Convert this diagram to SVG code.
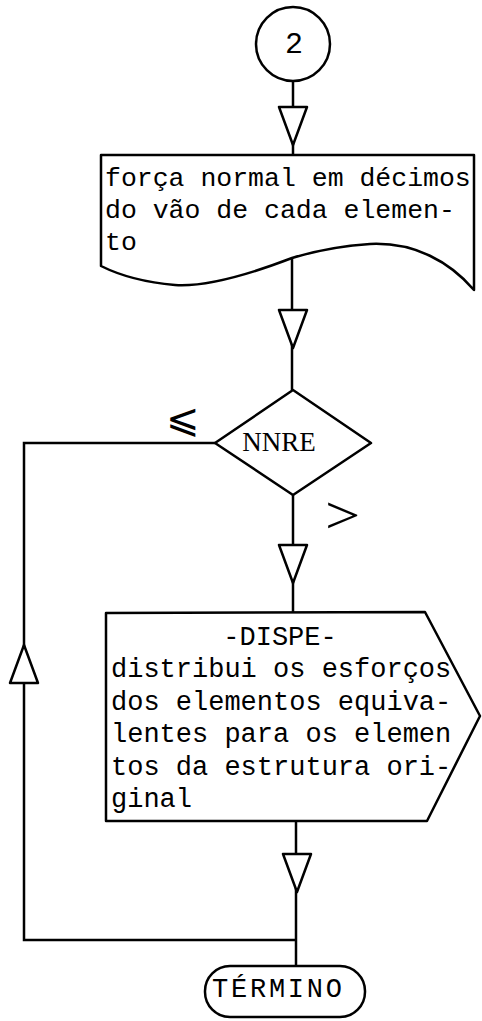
<svg xmlns="http://www.w3.org/2000/svg" width="482" height="1021" viewBox="0 0 482 1021">
<style>
.s{fill:#fff;stroke:#000;stroke-width:2.5;stroke-linejoin:round}
.ln{fill:none;stroke:#000;stroke-width:2.5}
.tw{font-family:"Liberation Mono","DejaVu Sans Mono",monospace;fill:#000}
.sf{font-family:"Liberation Serif","DejaVu Serif",serif;fill:#000}
</style>
<defs>
<path id="tri" d="M-14,-38 L14,-38 L0,0 Z" class="s"/>
</defs>
<g id="connectors">
<path class="ln" d="M293,81 V155"/>
<path class="ln" d="M292,258 V390"/>
<path class="ln" d="M293,495 V613"/>
<path class="ln" d="M215,443 H24 V940 H296"/>
<path class="ln" d="M296,821 V966"/>
<use href="#tri" x="293" y="145"/>
<use href="#tri" x="293" y="348"/>
<use href="#tri" x="293" y="583"/>
<use href="#tri" x="297" y="892"/>
<use href="#tri" transform="translate(24,645) rotate(180)"/>
<text class="sf" x="166" y="432" font-size="40" font-family="DejaVu Sans">⩽</text>
<text class="sf" x="325" y="533" font-size="52" font-family="DejaVu Sans" transform="translate(325,533) scale(1.2,1) translate(-325,-533)">&gt;</text>
</g>
<g id="n2">
<circle class="s" cx="293" cy="44" r="37"/>
<text class="tw" x="294" y="53" font-size="30" text-anchor="middle">2</text>
</g>
<g id="doc">
<path class="s" d="M101,155 L474,155 L474,290 C450,262 415,242 370,244 C340,246 318,250 292,258 C245,276 205,287 175,285 C140,282 115,273 101,266 Z"/>
<text class="tw" font-size="26.5"><tspan x="105" y="186">força normal em décimos</tspan><tspan x="105" y="218">do vão de cada elemen-</tspan><tspan x="105" y="250">to</tspan></text>
</g>
<g id="nnre">
<path class="s" d="M293,390 L371,443 L293,495 L215,443 Z"/>
<text class="sf" x="279" y="451" font-size="27" text-anchor="middle">NNRE</text>
</g>
<g id="dispe">
<path class="s" d="M106,613 L425,612 L480,716 L427,821 L106,821 Z"/>
<text class="tw" font-size="27"><tspan x="280" y="645" text-anchor="middle">-DISPE-</tspan><tspan x="111" y="677">distribui os esforços</tspan><tspan x="111" y="710">dos elementos equiva-</tspan><tspan x="111" y="742">lentes para os elemen</tspan><tspan x="111" y="775">tos da estrutura ori-</tspan><tspan x="111" y="807">ginal</tspan></text>
</g>
<g id="termino">
<rect class="s" x="205" y="966" width="160" height="51" rx="25" ry="25"/>
<text class="tw" x="212" y="997" font-size="27" textLength="130" lengthAdjust="spacing">TÉRMINO</text>
</g>
</svg>
